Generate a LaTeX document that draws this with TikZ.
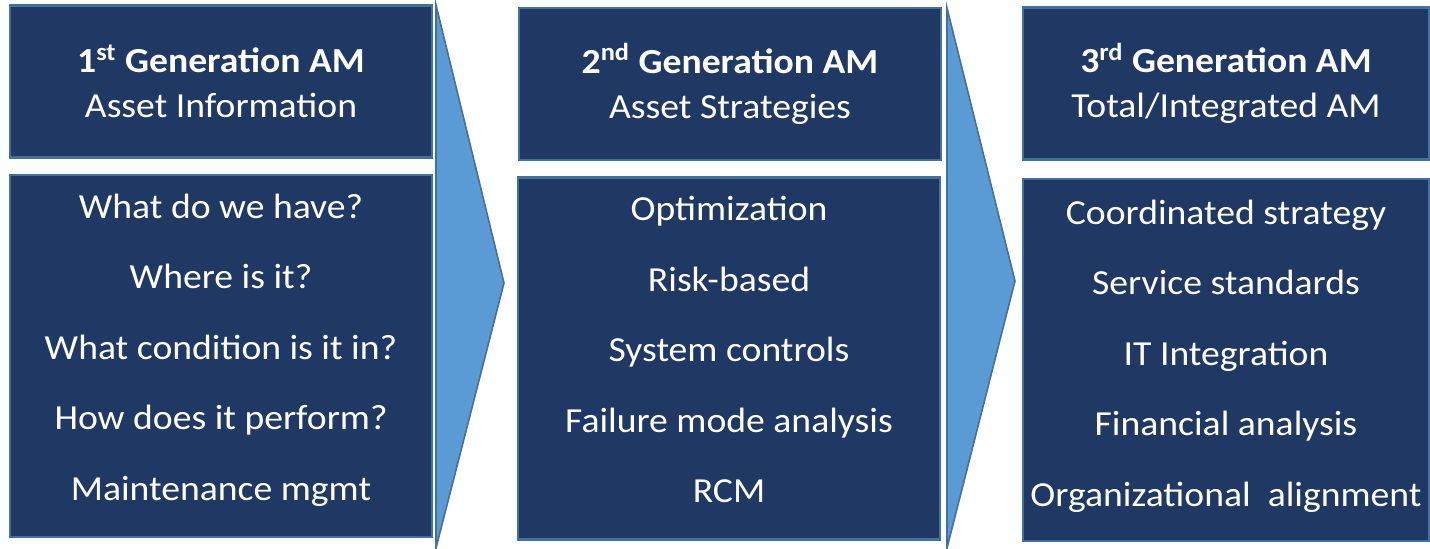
\documentclass[tikz,border=0pt]{standalone}
\usepackage{fontspec}
\setmainfont{Carlito}[FakeStretch=1.07]
\definecolor{amnavy}{RGB}{31,56,100}
\definecolor{amedge}{RGB}{65,113,156}
\definecolor{amarrow}{RGB}{91,155,213}
\tikzset{
  genhead/.style={draw=amedge, fill=amnavy, line width=1.25pt, text=white,
    align=center, inner sep=0pt, minimum width=211pt, minimum height=76pt,
    font=\fontsize{17.6}{22.5}\selectfont},
  genbody/.style={genhead, minimum height=181pt, text depth=9pt,
    font=\fontsize{17.6}{35.2}\selectfont},
  genarrow/.style={draw=amedge, fill=amarrow, line width=0.8pt, line join=miter}
}
\begin{document}
\begin{tikzpicture}[x=0.5pt,y=-0.5pt]
      \useasboundingbox (0,0) rectangle (1430,549);
      \node[genhead] (h1) at (221,81.5) {\textbf{1\textsuperscript{st} Generation AM}\\Asset Information};
      \node[genbody] (b1) at (221,356) {What do we have?\\Where is it?\\What condition is it in?\\How does it perform?\\Maintenance mgmt};
      \node[genhead] (h2) at (730,84) {\textbf{2\textsuperscript{nd} Generation AM}\\Asset Strategies};
      \node[genbody] (b2) at (729,358.5) {Optimization\\Risk-based\\System controls\\Failure mode analysis\\RCM};
      \node[genhead, minimum width=203pt] (h3) at (1226,83.5) {\textbf{3\textsuperscript{rd} Generation AM}\\Total/Integrated AM};
      \node[genbody, minimum width=203pt, text depth=7pt] (b3) at (1226,360) {Coordinated strategy\\Service standards\\IT Integration\\Financial analysis\\Organizational\ \ alignment};
      \coordinate (t1) at (436,5);
      \coordinate (p1) at (504,283);
      \coordinate (e1) at (436,548);
      \coordinate (t2) at (947,8);
      \coordinate (p2) at (1015,281);
      \coordinate (e2) at (947,548);
      \draw[genarrow] (t1) -- (p1) -- (e1) -- cycle;
      \draw[genarrow] (t2) -- (p2) -- (e2) -- cycle;
    \end{tikzpicture}
\end{document}
